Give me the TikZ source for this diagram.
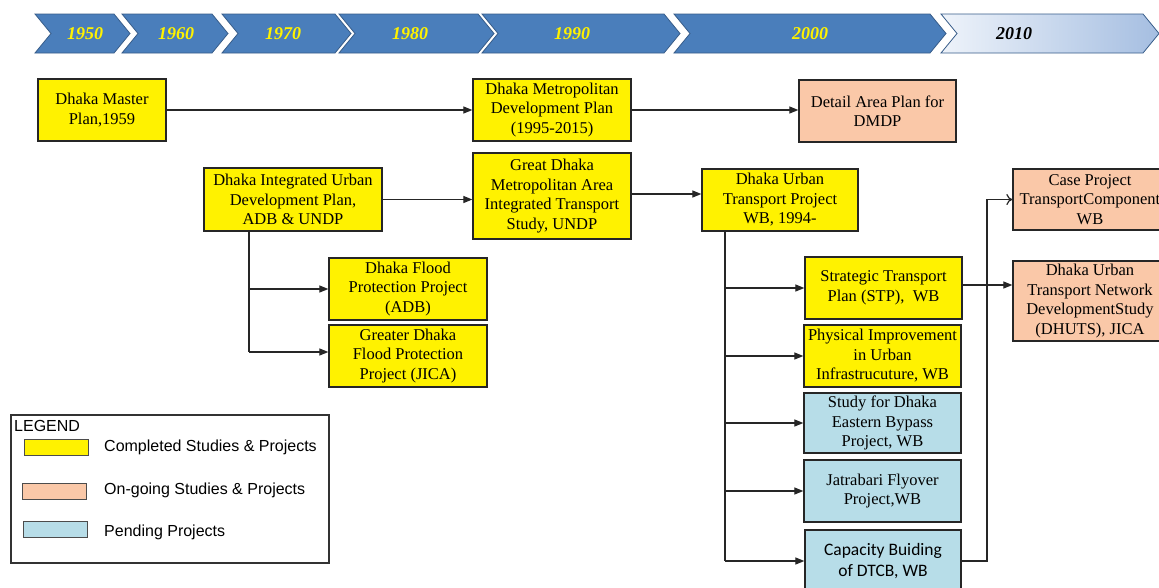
\documentclass[tikz,border=0pt]{standalone}
\usepackage{fontspec}
\setmainfont{Liberation Serif}
\newfontfamily\legsans{Liberation Sans}
\newfontfamily\calibfont{Carlito}
\usetikzlibrary{arrows.meta}
\definecolor{chevblue}{RGB}{74,126,187}
\definecolor{chevedge}{RGB}{56,93,138}
\definecolor{peach}{RGB}{250,200,168}
\definecolor{pend}{RGB}{183,221,232}
\definecolor{lightA}{RGB}{238,243,250}
\definecolor{lightB}{RGB}{165,190,225}
\tikzset{
  boxbase/.style={draw=black!85, line width=1.3pt, align=center, inner sep=0pt,
    font=\fontsize{16.5}{19.5}\selectfont},
  yb/.style={boxbase, fill=yellow},
  ob/.style={boxbase, fill=peach},
  bb/.style={boxbase, fill=pend},
  arr/.style={line width=1.2pt, draw=black!85, -{Triangle[length=9pt,width=7pt]}},
  openarr/.style={line width=1.2pt, draw=black!85, -{To[length=6pt,width=11pt]}},
  plain/.style={line width=1.2pt, draw=black!85},
  year/.style={font=\fontsize{18}{20}\selectfont\bfseries\itshape, text=yellow},
  legtext/.style={anchor=west, font=\legsans\fontsize{16}{18}\selectfont, inner sep=0pt},
  swatch/.style={draw=black!70, line width=1pt, minimum width=64pt, minimum height=16pt, inner sep=0pt}
}
\newcommand{\chev}[4]{% L, R, fill options, name
  \path[#3, draw=chevedge, line width=0.8pt] (#1,14) -- (#2,14) -- (#2+16,33.5) -- (#2,53) -- (#1,53) -- (#1+16,33.5) -- cycle;
}
\begin{document}
\begin{tikzpicture}[x=1pt,y=-1pt]
\clip (0,0) rectangle (1159,587);
\fill[white] (0,0) rectangle (1159,587);

% timeline
\chev{35}{114}{fill=chevblue}{c1}
\chev{122}{212}{fill=chevblue}{c2}
\chev{222}{335}{fill=chevblue}{c3}
\chev{339}{478}{fill=chevblue}{c4}
\chev{482}{664}{fill=chevblue}{c5}
\chev{674}{930}{fill=chevblue}{c6}
\chev{941}{1143}{left color=lightA, right color=lightB}{c7}
\node[year] (y1) at (85,34) {1950};
\node[year] (y2) at (176,34) {1960};
\node[year] (y3) at (283,34) {1970};
\node[year] (y4) at (410,34) {1980};
\node[year] (y5) at (572,34) {1990};
\node[year] (y6) at (810,34) {2000};
\node[year, text=black] (y7) at (1014,34) {2010};

% boxes
\node[yb, minimum width=128pt, minimum height=62pt] (mp) at (102,110) {Dhaka Master\\Plan,1959};
\node[yb, minimum width=158pt, minimum height=62pt] (dmdp) at (552,110) {Dhaka Metropolitan\\Development Plan\\(1995-2015)};
\node[ob, minimum width=157pt, minimum height=62pt] (dap) at (877.5,111) {Detail Area Plan for\\DMDP};
\node[yb, minimum width=178pt, minimum height=63pt] (diudp) at (293,199.5) {Dhaka Integrated Urban\\Development Plan,\\ADB \& UNDP};
\node[yb, minimum width=158pt, minimum height=86pt] (gdma) at (552,196) {Great Dhaka\\Metropolitan Area\\Integrated Transport\\Study, UNDP};
\node[yb, minimum width=156pt, minimum height=62pt] (dutp) at (780,200) {Dhaka Urban\\Transport Project\\WB, 1994-};
\node[yb, minimum width=158pt, minimum height=62pt] (dfp) at (408,289) {Dhaka Flood\\Protection Project\\(ADB)};
\node[yb, minimum width=158pt, minimum height=62pt] (gdfp) at (408,356) {Greater Dhaka\\Flood Protection\\Project (JICA)};
\node[yb, minimum width=157pt, minimum height=62pt] (stp) at (883.5,288) {Strategic Transport\\Plan (STP),~ WB};
\node[yb, minimum width=157pt, minimum height=62pt] (piui) at (882.5,356) {Physical Improvement\\in Urban\\Infrastrucuture, WB};
\node[bb, minimum width=157pt, minimum height=60pt] (sde) at (882.5,423) {Study for Dhaka\\Eastern Bypass\\Project, WB};
\node[bb, minimum width=157pt, minimum height=62pt] (jf) at (882.5,491) {Jatrabari Flyover\\Project,WB};
\node[bb, minimum width=156pt, minimum height=62pt, font=\calibfont\fontsize{17.5}{21.5}\selectfont] (cb) at (883,561) {Capacity Buiding\\of DTCB, WB};
\node[ob, minimum width=154pt, minimum height=61pt] (cp) at (1090,199.5) {Case Project\\TransportComponent\\WB};
\node[ob, minimum width=154pt, minimum height=80pt] (dutn) at (1090,301) {Dhaka Urban\\Transport Network\\DevelopmentStudy\\(DHUTS), JICA};

% connectors
\draw[arr] (mp.east) -- (mp.east -| dmdp.west);
\draw[arr] (dmdp.east) -- (dmdp.east -| dap.west);
\draw[arr] (diudp.east) -- (diudp.east -| gdma.west);
\draw[arr] ([yshift=2pt]gdma.east) -- ([yshift=2pt]gdma.east -| dutp.west);

\coordinate (v1) at (249,352);
\draw[plain] (diudp.south -| v1) -- (v1);
\draw[arr] (v1 |- dfp.west) -- (dfp.west);
\draw[arr] (v1) -- (v1 -| gdfp.west);

\coordinate (v2) at (725,561);
\draw[plain] (dutp.south -| v2) -- (v2);
\draw[arr] (v2 |- stp.west) -- (stp.west);
\draw[arr] (v2 |- piui.west) -- (piui.west);
\draw[arr] (v2 |- sde.west) -- (sde.west);
\draw[arr] (v2 |- jf.west) -- (jf.west);
\draw[arr] (v2) -- (v2 -| cb.west);

\coordinate (v3) at (987,199.5);
\draw[openarr] (cb.east) -- (cb.east -| v3) -- (v3) -- (cp.west);
\draw[arr] ([yshift=3pt]stp.east) -- ([yshift=3pt]stp.east -| dutn.west);

% legend
\node[draw=black!80, line width=1.2pt, minimum width=318pt, minimum height=148pt, inner sep=0pt] (leg) at (170,489) {};
\node[legtext] (legt) at (14,426) {LEGEND};
\node[swatch, fill=yellow] (s1) at (56,447) {};
\node[swatch, fill=peach] (s2) at (54,491) {};
\node[swatch, fill=pend] (s3) at (55,529) {};
\node[legtext] (l1) at (104,447) {Completed Studies \& Projects};
\node[legtext] (l2) at (104,490) {On-going Studies \& Projects};
\node[legtext] (l3) at (104,532) {Pending Projects};
\end{tikzpicture}
\end{document}
